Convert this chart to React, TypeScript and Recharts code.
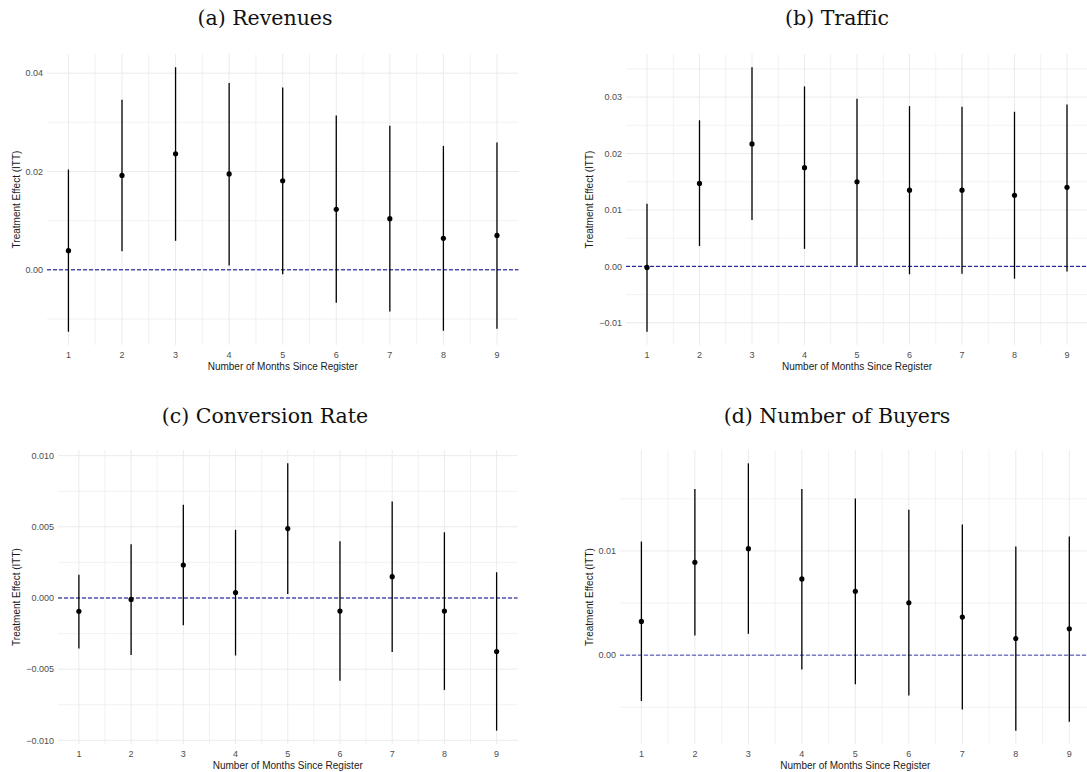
import React from 'react';
import {
  ComposedChart,
  Scatter,
  ErrorBar,
  XAxis,
  YAxis,
  CartesianGrid,
  ReferenceLine,
  Label,
} from 'recharts';

// ---------------- data ----------------
const months = [1, 2, 3, 4, 5, 6, 7, 8, 9];
const xMinor = [1.5, 2.5, 3.5, 4.5, 5.5, 6.5, 7.5, 8.5];

const revenuesEst = [0.0039, 0.0192, 0.0236, 0.0195, 0.0181, 0.0123, 0.0104, 0.0064, 0.007];
const revenuesLow = [-0.0126, 0.0038, 0.0059, 0.0009, -0.0009, -0.0067, -0.0085, -0.0124, -0.012];
const revenuesHigh = [0.0204, 0.0346, 0.0412, 0.038, 0.0371, 0.0314, 0.0293, 0.0252, 0.0259];
const revenuesTicks = [0, 0.02, 0.04];
const revenuesTickLabels = ['0.00', '0.02', '0.04'];
const revenuesMinor = [-0.01, 0.01, 0.03];

const trafficEst = [-0.0002, 0.0147, 0.0217, 0.0175, 0.015, 0.0135, 0.0135, 0.0126, 0.014];
const trafficLow = [-0.0116, 0.0036, 0.0082, 0.0031, 0.0001, -0.0014, -0.0013, -0.0022, -0.0009];
const trafficHigh = [0.0111, 0.0259, 0.0353, 0.0319, 0.0297, 0.0284, 0.0283, 0.0274, 0.0287];
const trafficTicks = [-0.01, 0, 0.01, 0.02, 0.03];
const trafficTickLabels = ['\u22120.01', '0.00', '0.01', '0.02', '0.03'];
const trafficMinor = [-0.005, 0.005, 0.015, 0.025, 0.035];

const conversionEst = [-0.00094, -0.0001, 0.00232, 0.00038, 0.00488, -0.00092, 0.0015, -0.00092, -0.00376];
const conversionLow = [-0.00354, -0.00401, -0.00192, -0.00404, 0.00028, -0.00582, -0.0038, -0.00646, -0.00932];
const conversionHigh = [0.00164, 0.00378, 0.00655, 0.00479, 0.00946, 0.00399, 0.00678, 0.00462, 0.00181];
const conversionTicks = [-0.01, -0.005, 0, 0.005, 0.01];
const conversionTickLabels = ['\u22120.010', '\u22120.005', '0.000', '0.005', '0.010'];
const conversionMinor = [-0.0075, -0.0025, 0.0025, 0.0075];

const buyersEst = [0.00324, 0.00891, 0.01022, 0.00731, 0.00612, 0.00503, 0.00365, 0.0016, 0.00253];
const buyersLow = [-0.00439, 0.00189, 0.00205, -0.00138, -0.00279, -0.00388, -0.00522, -0.00724, -0.00638];
const buyersHigh = [0.0109, 0.01593, 0.0184, 0.01593, 0.01503, 0.01394, 0.01253, 0.01042, 0.01138];
const buyersTicks = [0, 0.01];
const buyersTickLabels = ['0.00', '0.01'];
const buyersMinor = [-0.005, 0.005, 0.015];

const titles = ['(a) Revenues', '(b) Traffic', '(c) Conversion Rate', '(d) Number of Buyers'];
const xTitle = 'Number of Months Since Register';
const yTitle = 'Treatment Effect (ITT)';

// ---------------- rendering ----------------
const SANS = '"Liberation Sans", Arial, Helvetica, sans-serif';
const SERIF = '"DejaVu Serif", "Liberation Serif", serif';

type PanelProps = {
  left: number;
  top: number;
  width: number;
  height: number;
  marginTop: number;
  marginBottom: number;
  marginRight: number;
  yAxisWidth: number;
  yLabelOffset: number;
  est: number[];
  low: number[];
  high: number[];
  ticks: number[];
  tickLabels: string[];
  minor: number[];
  zeroColor: string;
};

const Dot = (p: any) => <circle cx={p.cx} cy={p.cy} r={2.6} fill="#000" />;

function Panel(props: PanelProps) {
  const { est, low, high, ticks, tickLabels, minor } = props;
  const data = months.map((m, i) => ({
    x: m,
    y: est[i],
    err: [est[i] - low[i], high[i] - est[i]],
  }));
  const mn = Math.min(...low);
  const mx = Math.max(...high);
  const pad = (mx - mn) * 0.05;
  const domain: [number, number] = [mn - pad, mx + pad];
  const fmt = (v: number) => {
    const idx = ticks.findIndex((t) => Math.abs(t - v) < 1e-9);
    return idx >= 0 ? tickLabels[idx] : String(v);
  };
  return (
    <div style={{ position: 'absolute', left: props.left, top: props.top }}>
      <ComposedChart
        width={props.width}
        height={props.height}
        data={data}
        margin={{ top: props.marginTop, bottom: props.marginBottom, left: 0, right: props.marginRight }}
        style={{ fontFamily: SANS }}
      >
        <CartesianGrid
          horizontalValues={minor}
          verticalValues={xMinor}
          stroke="#efefef"
          strokeWidth={0.8}
        />
        <CartesianGrid
          horizontalValues={ticks}
          verticalValues={months}
          stroke="#ebebeb"
          strokeWidth={1}
        />
        <XAxis
          type="number"
          dataKey="x"
          domain={[0.6, 9.4]}
          ticks={months}
          axisLine={false}
          tickLine={false}
          tickSize={6}
          tickMargin={1}
          height={25}
          interval={0}
          allowDataOverflow
          tick={{ fill: '#4d4d4d', fontSize: 9, fontFamily: SANS }}
        >
          <Label
            value={xTitle}
            position="insideBottom"
            offset={0}
            style={{ fill: '#1a1a1a', fontSize: 10, fontFamily: SANS }}
          />
        </XAxis>
        <YAxis
          type="number"
          domain={domain}
          ticks={ticks}
          tickFormatter={fmt}
          axisLine={false}
          tickLine={false}
          tickSize={2}
          tickMargin={2}
          width={props.yAxisWidth}
          interval={0}
          allowDataOverflow
          tick={{ fill: '#4d4d4d', fontSize: 9, fontFamily: SANS }}
        >
          <Label
            value={yTitle}
            angle={-90}
            position="insideLeft"
            offset={props.yLabelOffset}
            style={{ fill: '#1a1a1a', fontSize: 10, fontFamily: SANS, textAnchor: 'middle' }}
          />
        </YAxis>
        <ReferenceLine y={0} stroke={props.zeroColor} strokeDasharray="4 2" strokeWidth={1} />
        <Scatter dataKey="y" shape={Dot} isAnimationActive={false}>
          <ErrorBar
            dataKey="err"
            direction="y"
            width={0}
            stroke="#000"
            strokeWidth={1.3}
            isAnimationActive={false}
          />
        </Scatter>
      </ComposedChart>
    </div>
  );
}

function Title({ text, cx, cy }: { text: string; cx: number; cy: number }) {
  return (
    <div
      style={{
        position: 'absolute',
        left: cx - 200,
        top: cy - 15,
        width: 400,
        height: 30,
        lineHeight: '30px',
        textAlign: 'center',
        fontFamily: SERIF,
        fontSize: 20.5,
        color: '#111',
        whiteSpace: 'nowrap',
      }}
    >
      {text}
    </div>
  );
}

export default function App() {
  return (
    <div
      style={{
        position: 'absolute',
        left: 0,
        top: 0,
        width: 1087,
        height: 772,
        overflow: 'hidden',
        background: '#fff',
      }}
    >
      <Title text={titles[0]} cx={265} cy={18} />
      <Title text={titles[1]} cx={837} cy={18} />
      <Title text={titles[2]} cx={265} cy={416} />
      <Title text={titles[3]} cx={837} cy={416} />
      <Panel
        left={0}
        top={40}
        width={540}
        height={346}
        marginTop={14}
        marginBottom={16}
        marginRight={21.6}
        yAxisWidth={47}
        yLabelOffset={16}
        est={revenuesEst}
        low={revenuesLow}
        high={revenuesHigh}
        ticks={revenuesTicks}
        tickLabels={revenuesTickLabels}
        minor={revenuesMinor}
        zeroColor="#00008b"
      />
      <Panel
        left={545}
        top={40}
        width={545}
        height={346}
        marginTop={14}
        marginBottom={16}
        marginRight={2}
        yAxisWidth={81}
        yLabelOffset={44}
        est={trafficEst}
        low={trafficLow}
        high={trafficHigh}
        ticks={trafficTicks}
        tickLabels={trafficTickLabels}
        minor={trafficMinor}
        zeroColor="#00008b"
      />
      <Panel
        left={0}
        top={436}
        width={540}
        height={336}
        marginTop={14}
        marginBottom={3}
        marginRight={22.5}
        yAxisWidth={58}
        yLabelOffset={16}
        est={conversionEst}
        low={conversionLow}
        high={conversionHigh}
        ticks={conversionTicks}
        tickLabels={conversionTickLabels}
        minor={conversionMinor}
        zeroColor="#00008b"
      />
      <Panel
        left={545}
        top={436}
        width={550}
        height={336}
        marginTop={14}
        marginBottom={3}
        marginRight={4.3}
        yAxisWidth={75}
        yLabelOffset={44}
        est={buyersEst}
        low={buyersLow}
        high={buyersHigh}
        ticks={buyersTicks}
        tickLabels={buyersTickLabels}
        minor={buyersMinor}
        zeroColor="#3f3fb0"
      />
    </div>
  );
}
